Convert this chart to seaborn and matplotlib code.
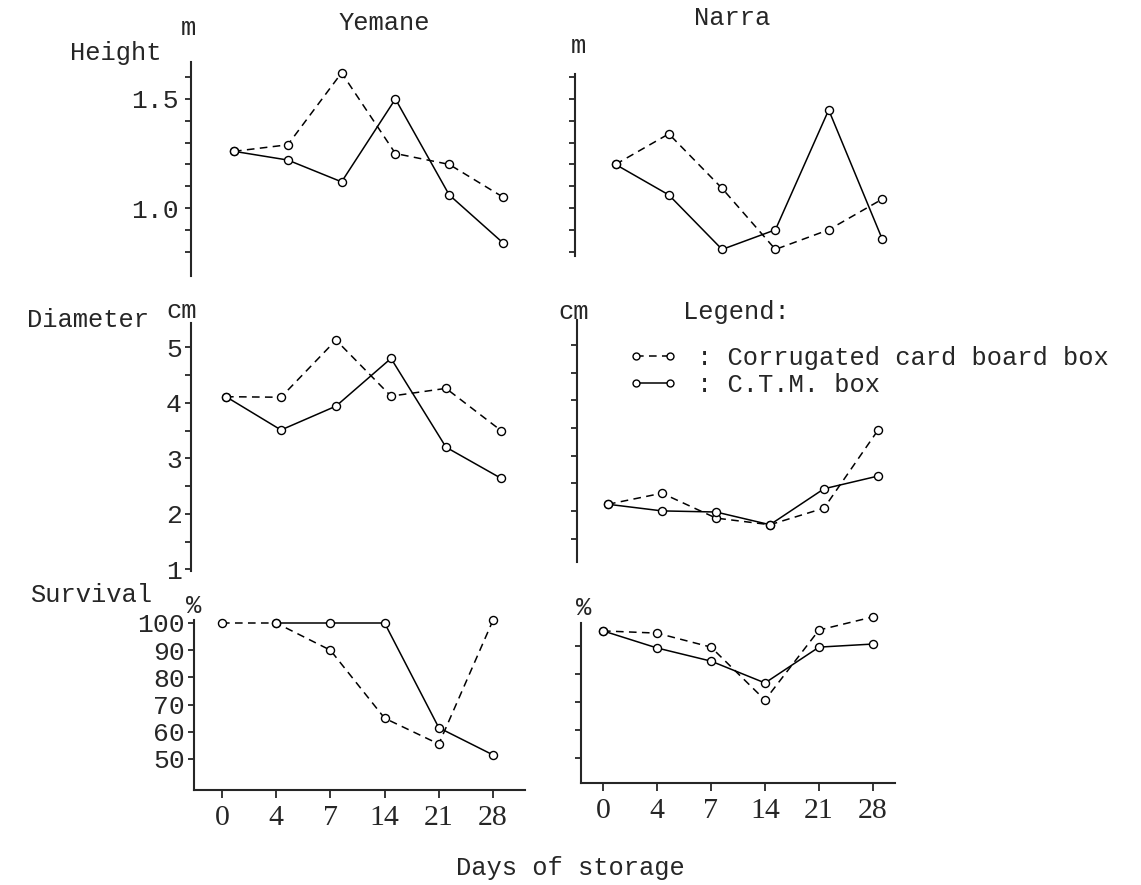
import numpy as np
import pandas as pd
import matplotlib
matplotlib.use("Agg")
import matplotlib.pyplot as plt
import seaborn as sns
from matplotlib.lines import Line2D

# ---------------- data ----------------
days = ["0", "4", "7", "14", "21", "28"]
boxes = ["Corrugated card board box", "C.T.M. box"]

yemane_height_corr = [1.26, 1.29, 1.62, 1.25, 1.20, 1.05]
yemane_height_ctm = [1.26, 1.22, 1.12, 1.50, 1.06, 0.84]
narra_height_corr = [1.20, 1.34, 1.09, 0.81, 0.90, 1.04]
narra_height_ctm = [1.20, 1.06, 0.81, 0.90, 1.45, 0.86]

yemane_diam_corr = [4.11, 4.10, 5.13, 4.12, 4.26, 3.50]
yemane_diam_ctm = [4.11, 3.51, 3.94, 4.80, 3.20, 2.64]
narra_diam_corr = [2.12, 2.32, 1.87, 1.75, 2.05, 3.46]
narra_diam_ctm = [2.12, 2.00, 1.98, 1.75, 2.40, 2.63]

yemane_surv_corr = [100, 100, 90, 65, 55.5, 101]
yemane_surv_ctm = [np.nan, 100, 100, 100, 61.5, 51.5]
narra_surv_corr = [95.4, 94.6, 89.6, 70.7, 95.7, 100.4]
narra_surv_ctm = [95.4, 89.3, 84.6, 76.8, 89.6, 90.7]

series = {
    ("Yemane", "Height"): (yemane_height_corr, yemane_height_ctm),
    ("Narra", "Height"): (narra_height_corr, narra_height_ctm),
    ("Yemane", "Diameter"): (yemane_diam_corr, yemane_diam_ctm),
    ("Narra", "Diameter"): (narra_diam_corr, narra_diam_ctm),
    ("Yemane", "Survival"): (yemane_surv_corr, yemane_surv_ctm),
    ("Narra", "Survival"): (narra_surv_corr, narra_surv_ctm),
}
rows = []
for (sp, meas), (corr, ctm) in series.items():
    for box, vals in zip(boxes, (corr, ctm)):
        for i, (d, v) in enumerate(zip(days, vals)):
            rows.append(dict(species=sp, measure=meas, box=box, day=d, pos=i, value=v))
df = pd.DataFrame(rows)

# ---------------- style ----------------
sns.set_style("white")
plt.rcParams["font.family"] = ["Liberation Mono", "DejaVu Sans Mono"]
plt.rcParams["axes.linewidth"] = 1.5

W, H = 1141, 885
fig = plt.figure(figsize=(W / 100, H / 100), dpi=100)
fig.patch.set_facecolor("white")

TXT = 18.4
MONO = ["Liberation Mono", "DejaVu Sans Mono"]

line_styles = {
    boxes[0]: dict(linestyle=(0, (5, 3.5))),
    boxes[1]: dict(linestyle="-"),
}
mk = dict(marker="o", markersize=5.8, markerfacecolor="white",
          markeredgecolor="black", markeredgewidth=1.0)


def add_ax(l, t, r, b):
    return fig.add_axes([l / W, 1 - b / H, (r - l) / W, (b - t) / H])


# panel geometry in pixels: l, t, r, b, x0 (pixel of first day), dx, yref_val, yref_px, px_per_unit
panels = {
    ("Yemane", "Height"): (191, 62, 530, 276, 234, 53.8, 1.5, 99, 218),
    ("Narra", "Height"): (575, 74, 910, 256, 615.5, 53.3, 1.5, 99, 218),
    ("Yemane", "Diameter"): (191, 323, 530, 571, 226, 55.0, 5.0, 347.3, 55.5),
    ("Narra", "Diameter"): (577, 320, 910, 562, 608, 54.0, 5.0, 345, 55.3),
    ("Yemane", "Survival"): (194, 620, 525, 790, 222, 54.2, 100, 623, 2.72),
    ("Narra", "Survival"): (581, 623, 895, 783, 603, 54.0, 90, 646, 2.8),
}

axes = {}
for key, (l, t, r, b, x0, dx, yv, ypx, ppu) in panels.items():
    ax = add_ax(l, t, r, b)
    ax.set_facecolor("none")
    sub = df[(df.species == key[0]) & (df.measure == key[1])]
    for box in boxes:
        s = sub[sub.box == box].dropna()
        sns.lineplot(data=s, x="pos", y="value", ax=ax, color="black",
                     lw=1.1, clip_on=False, errorbar=None, legend=False,
                     **line_styles[box], **mk)
    ax.set_xlim(-(x0 - l) / dx, (r - x0) / dx)
    ax.set_ylim(yv - (b - ypx) / ppu, yv + (ypx - t) / ppu)
    ax.set_xlabel("")
    ax.set_ylabel("")
    for sname in ("top", "right"):
        ax.spines[sname].set_visible(False)
    ax.spines["left"].set_linewidth(1.5)
    ax.tick_params(axis="y", left=True, direction="out", length=4, width=1.1,
                   color="black", labelsize=18.5, pad=2.5)
    if key[1] != "Survival":
        ax.spines["bottom"].set_visible(False)
        ax.set_xticks([])
    else:
        ax.spines["bottom"].set_linewidth(1.5)
        ax.set_xticks(range(len(days)))
        ax.set_xticklabels(days, family=["Liberation Serif"], fontsize=21.5)
        ax.tick_params(axis="x", bottom=True, direction="out", length=5.5,
                       width=1.1, color="black", pad=5)
    axes[key] = ax

# y ticks
hv = [0.8, 0.9, 1.0, 1.1, 1.2, 1.3, 1.4, 1.5, 1.6]
axes[("Yemane", "Height")].set_yticks(hv, labels=["", "", "1.0", "", "", "", "", "1.5", ""])
axes[("Narra", "Height")].set_yticks(hv, labels=[""] * len(hv))
dv = [1.0, 1.5, 2.0, 2.5, 3.0, 3.5, 4.0, 4.5, 5.0]
axes[("Yemane", "Diameter")].set_yticks(dv, labels=["1", "", "2", "", "3", "", "4", "", "5"])
axes[("Narra", "Diameter")].set_yticks(dv[1:], labels=[""] * (len(dv) - 1))
sv = [50, 60, 70, 80, 90, 100]
axes[("Yemane", "Survival")].set_yticks(sv, labels=[str(v) for v in sv])
axes[("Narra", "Survival")].set_yticks(sv[:-1], labels=[""] * (len(sv) - 1))
for ax in axes.values():
    for lab in ax.get_yticklabels():
        lab.set_family(["Liberation Mono"])
        lab.set_fontsize(19)
axes[("Yemane", "Height")].tick_params(axis="y", pad=5)


# ---------------- texts ----------------
def ftext(x, y, s, ha="left", va="center", size=TXT):
    fig.text(x / W, 1 - y / H, s, ha=ha, va=va,
             fontdict={"family": MONO, "size": size})


ftext(384, 23, "Yemane", ha="center")
ftext(732, 18, "Narra", ha="center")
ftext(70, 53, "Height")
ftext(188, 28, "m", ha="center")
ftext(578, 46, "m", ha="center")
ftext(27, 320, "Diameter")
ftext(182, 311, "cm", ha="center")
ftext(574, 312, "cm", ha="center")
ftext(30, 595, "Survival")
ftext(194, 606, "%", ha="center")
ftext(584, 608, "%", ha="center")
ftext(683, 312, "Legend:")
ftext(570, 868, "Days of storage", ha="center")

# legend
handles = [Line2D([], [], color="black", lw=1.1, **line_styles[b], **dict(mk, markersize=5))
           for b in boxes]
fig.legend(handles, [": " + b for b in boxes], loc="upper left",
           bbox_to_anchor=(628 / W, 1 - 346 / H), bbox_transform=fig.transFigure,
           frameon=False, handlelength=1.96, handletextpad=0.75, borderpad=0,
           borderaxespad=0, labelspacing=0.1, numpoints=2,
           prop={"family": MONO, "size": TXT})

fig.savefig("out.png", dpi=100, facecolor="white")
